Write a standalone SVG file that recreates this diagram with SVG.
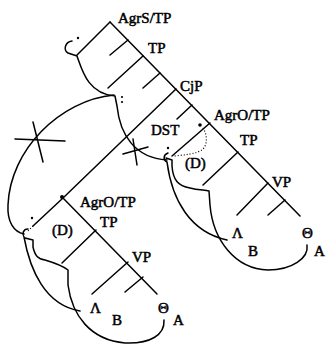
<svg xmlns="http://www.w3.org/2000/svg" width="326" height="345" viewBox="0 0 326 345">
<style>
.e{stroke:#000;stroke-width:1.5;fill:none;stroke-linecap:round;stroke-linejoin:round}
.d{stroke:#000;stroke-width:1.2;fill:none;stroke-dasharray:1 2}
.t{font-family:"Liberation Serif","Times New Roman",serif;font-size:15px;fill:#000;stroke:#000;stroke-width:0.5}
.dot{fill:#000}
</style>
<rect width="326" height="345" fill="#fff"/>
<g id="connectors">
  <!-- upper tree -->
  <path class="e" d="M110,22 L300,216"/>
  <path class="e" d="M110,22 L77,55"/>
  <path class="e" d="M128,40 L110,55"/>
  <path class="e" d="M143,56 L108,88"/>
  <path class="e" d="M160,73 L143,88"/>
  <path class="e" d="M176,89 L63,198"/>
  <path class="e" d="M192,105 L177,119"/>
  <path class="e" d="M210,123 L172,156"/>
  <path class="e" d="M238,152 L203,185"/>
  <path class="e" d="M268,183 L237,215"/>
  <path class="e" d="M285,200 L268,215"/>
  <path class="d" d="M203,128 C207,134 208,144 203,149 C197,154 185,155 173,156"/>
  <!-- lower tree -->
  <path class="e" d="M63,198 L157,294"/>
  <path class="e" d="M63,198 L33,226"/>
  <path class="d" d="M33,226 L27,232"/>
  <path class="e" d="M96,230 L62,263"/>
  <path class="e" d="M128,262 L92,294"/>
  <path class="e" d="M143,277 L125,292"/>
  <!-- movement curves -->
  <path class="e" d="M72,41 C65,42 63,50 68,53 L77,56 C82,70 88,94 115,96 L117,106 C120,135 135,158 167,160"/>
  <path class="e" d="M114,95 C60,100 10,150 8,205 C7,222 14,232 24,234"/>
  <path class="e" d="M168,153 C163,155 163,160 167,162 C172,200 190,232 227,240"/>
  <path class="e" d="M166,158 L172,160 L172,166 C173,180 178,186 190,188 C198,190 204,190 209,191 L210,205 C213,240 235,269 268,270 C292,270 309,258 307,245"/>
  <path class="e" d="M28,229 C23,229 22,234 24,237 C30,270 45,305 80,311"/>
  <path class="e" d="M25,238 L33,240 L33,247 C35,256 38,259 45,260 C55,263 63,266 68,270 L68,285 C72,315 90,340 125,343 C150,344 165,335 164,320"/>
  <!-- crossing marks -->
  <path class="e" d="M15,139 L65,141 M33,122 L43,162"/>
  <path class="e" d="M123,154 L148,147 M133,139 L137,165"/>
  <!-- dots -->
  <circle class="dot" cx="78" cy="38" r="1.2"/>
  <circle class="dot" cx="122" cy="97" r="1.1"/>
  <circle class="dot" cx="122" cy="102" r="1.1"/>
  <circle class="dot" cx="200" cy="125" r="1.8"/>
  <circle class="dot" cx="168" cy="148" r="1.2"/>
  <circle class="dot" cx="62" cy="197" r="2"/>
  <circle class="dot" cx="32" cy="218" r="1.2"/>
</g>
<g id="n-agrs-tp"><text class="t" x="118" y="23">AgrS/TP</text></g>
<g id="n-tp1"><text class="t" x="148" y="53">TP</text></g>
<g id="n-cjp"><text class="t" x="180" y="91">CjP</text></g>
<g id="n-dst"><text class="t" x="151" y="135">DST</text></g>
<g id="n-agro-tp1"><text class="t" x="214" y="120">AgrO/TP</text></g>
<g id="n-tp2"><text class="t" x="240" y="145">TP</text></g>
<g id="n-d1"><text class="t" x="185" y="168">(D)</text></g>
<g id="n-vp1"><text class="t" x="272" y="187">VP</text></g>
<g id="n-lambda1"><text class="t" x="232" y="238">Λ</text></g>
<g id="n-theta1"><text class="t" x="302" y="238">Θ</text></g>
<g id="n-b1"><text class="t" x="248" y="256">B</text></g>
<g id="n-a1"><text class="t" x="314" y="256">A</text></g>
<g id="n-agro-tp2"><text class="t" x="80" y="207">AgrO/TP</text></g>
<g id="n-tp3"><text class="t" x="100" y="227">TP</text></g>
<g id="n-d2"><text class="t" x="52" y="235">(D)</text></g>
<g id="n-vp2"><text class="t" x="132" y="262">VP</text></g>
<g id="n-lambda2"><text class="t" x="90" y="313">Λ</text></g>
<g id="n-theta2"><text class="t" x="158" y="313">Θ</text></g>
<g id="n-b2"><text class="t" x="112" y="325">B</text></g>
<g id="n-a2"><text class="t" x="173" y="325">A</text></g>
</svg>
